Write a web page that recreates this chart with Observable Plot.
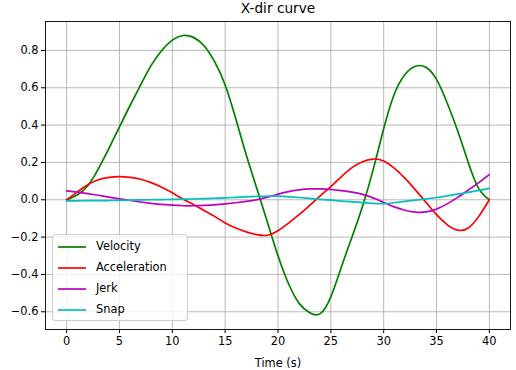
<!DOCTYPE html>
<html>
<head>
<meta charset="utf-8">
<script src="https://cdn.jsdelivr.net/npm/d3@7"></script>
<script src="https://cdn.jsdelivr.net/npm/@observablehq/plot@0.6"></script>
<style>
  html, body { margin: 0; padding: 0; background: #fff; }
  #wrap { position: relative; width: 516px; height: 370px; font-family: "DejaVu Sans", sans-serif; }
  #legend { position: absolute; left: 52px; top: 234px; width: 136px; height: 87px;
            background: rgba(255,255,255,0.8); border: 1px solid #cccccc; border-radius: 3px; box-sizing: border-box; }
  .item { position: absolute; left: 0; height: 14px; font-size: 11.4px; color: #000; }
  .item svg { position: absolute; left: 5px; top: 0; }
  .item span { position: absolute; left: 43px; top: -1px; white-space: nowrap; }
</style>
</head>
<body>
<div id="wrap"></div>
<script>
const title = "X-dir curve";
const xLabel = "Time (s)";
const seriesNames = ["Velocity", "Acceleration", "Jerk", "Snap"];
const seriesColors = ["#008000", "#ff0000", "#bf00bf", "#00bfbf"];
const xTicks = [0, 5, 10, 15, 20, 25, 30, 35, 40];
const yTicks = [-0.6, -0.4, -0.2, 0.0, 0.2, 0.4, 0.6, 0.8];

const time = [0,1,2,3,4,5,6,7,8,9,10,11,12,13,14,15,16,17,18,19,20,21,22,23,24,25,26,27,28,29,30,31,32,33,34,35,36,37,38,39,40];
const velocity = [0,0.025,0.075,0.165,0.275,0.39,0.505,0.615,0.72,0.80,0.855,0.88,0.87,0.825,0.74,0.615,0.435,0.24,0.06,-0.12,-0.30,-0.45,-0.555,-0.605,-0.61,-0.52,-0.36,-0.20,-0.035,0.16,0.38,0.565,0.67,0.715,0.71,0.645,0.52,0.37,0.20,0.06,0];
const acceleration = [0,0.041,0.08,0.107,0.12,0.124,0.12,0.11,0.092,0.067,0.037,0.004,-0.025,-0.058,-0.089,-0.124,-0.151,-0.172,-0.187,-0.19,-0.166,-0.125,-0.08,-0.03,0.021,0.071,0.124,0.172,0.204,0.218,0.208,0.169,0.116,0.053,-0.014,-0.08,-0.133,-0.163,-0.151,-0.089,0];
const jerk = [0.048,0.041,0.033,0.024,0.014,0.005,-0.004,-0.012,-0.019,-0.025,-0.029,-0.032,-0.032,-0.030,-0.027,-0.022,-0.016,-0.009,0.0,0.014,0.03,0.044,0.053,0.058,0.058,0.055,0.049,0.041,0.029,0.01,-0.014,-0.038,-0.056,-0.066,-0.065,-0.05,-0.022,0.013,0.052,0.092,0.135];
const snap = [-0.006,-0.006,-0.005,-0.005,-0.004,-0.003,-0.002,-0.001,0.0,0.001,0.002,0.003,0.004,0.006,0.008,0.010,0.013,0.016,0.018,0.019,0.019,0.016,0.012,0.007,0.002,-0.002,-0.007,-0.011,-0.015,-0.019,-0.021,-0.016,-0.009,-0.002,0.005,0.012,0.021,0.030,0.040,0.050,0.061];

const seriesValues = [velocity, acceleration, jerk, snap];
const FONT = "DejaVu Sans";

const lines = seriesValues.map((vals, i) =>
  Plot.line(time.map((t, k) => ({t, v: vals[k]})), {
    x: "t", y: "v", stroke: seriesColors[i], strokeWidth: 1.7, curve: "natural"
  })
);

const chart = Plot.plot({
  width: 516,
  height: 370,
  marginLeft: 45,
  marginRight: 6,
  marginTop: 21,
  marginBottom: 41,
  style: { fontFamily: FONT, background: "#fff", color: "#000" },
  x: { domain: [-2, 42] },
  y: { domain: [-0.695, 0.955] },
  marks: [
    Plot.gridX(xTicks, { stroke: "#b0b0b0", strokeOpacity: 1, strokeWidth: 0.9 }),
    Plot.gridY(yTicks, { stroke: "#b0b0b0", strokeOpacity: 1, strokeWidth: 0.9 }),
    ...lines,
    Plot.frame({ stroke: "#000", strokeWidth: 0.9 }),
    Plot.axisX(xTicks, { tickSize: 4, tickPadding: 3, fontSize: 11.4, tickFormat: d3.format("d"), label: null, stroke: "#000", fill: "#000" }),
    Plot.axisY(yTicks, { tickSize: 4, tickPadding: 3, fontSize: 11.4, tickFormat: d3.format(".1f"), label: null, stroke: "#000", fill: "#000" }),
    Plot.text([title], { frameAnchor: "top", lineAnchor: "middle", dy: -13, fontSize: 13.7, fill: "#000", fontFamily: FONT }),
    Plot.text([xLabel], { frameAnchor: "bottom", lineAnchor: "middle", dy: 34, fontSize: 11.4, fill: "#000", fontFamily: FONT })
  ]
});

const wrap = document.getElementById("wrap");
wrap.appendChild(chart);

const legend = document.createElement("div");
legend.id = "legend";
seriesNames.forEach((name, i) => {
  const item = document.createElement("div");
  item.className = "item";
  item.style.top = (5 + i * 21) + "px";
  item.innerHTML = `<svg width="30" height="14"><line x1="0" x2="28" y1="7" y2="7" stroke="${seriesColors[i]}" stroke-width="1.7"/></svg><span>${name}</span>`;
  legend.appendChild(item);
});
wrap.appendChild(legend);
</script>
</body>
</html>
